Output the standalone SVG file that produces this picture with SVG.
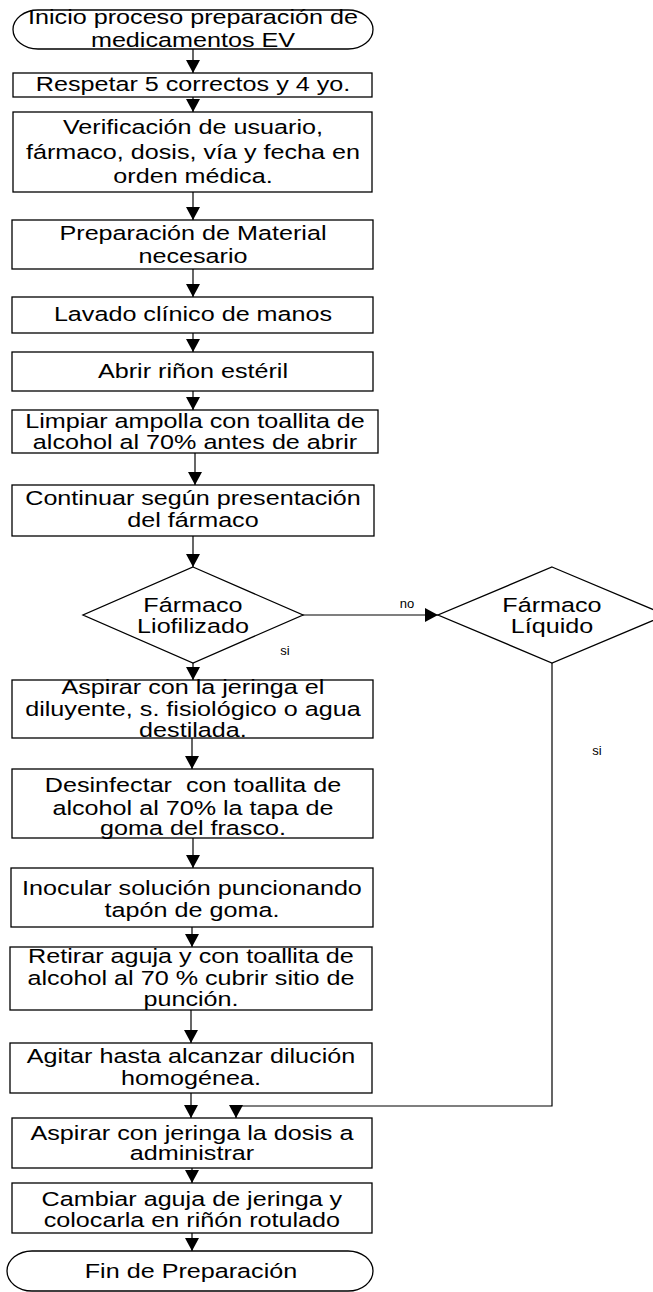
<svg xmlns="http://www.w3.org/2000/svg" width="653" height="1292" viewBox="0 0 653 1292">
<defs>
<marker id="ah" markerUnits="userSpaceOnUse" markerWidth="13" markerHeight="14" viewBox="0 0 13 14" refX="13" refY="7" orient="auto">
<path d="M0,0 L13,7 L0,14 z" fill="#000"/>
</marker>
</defs>
<style>
.s{fill:#fff;stroke:#000;stroke-width:1.3}
.t{font-family:"Liberation Sans",Arial,sans-serif;font-size:19.5px;fill:#000;text-anchor:middle;transform-box:fill-box;transform-origin:center;transform:scaleX(1.29)}
.l{font-family:"Liberation Sans",Arial,sans-serif;font-size:13px;fill:#000;text-anchor:middle}
.c{fill:none;stroke:#000;stroke-width:1.2;marker-end:url(#ah)}
</style>
<rect width="653" height="1292" fill="#fff"/>
<g id="connectors">
<line class="c" x1="193" y1="49" x2="193" y2="73"/>
<line class="c" x1="193" y1="97" x2="193" y2="112"/>
<line class="c" x1="193" y1="192" x2="193" y2="220"/>
<line class="c" x1="193" y1="269" x2="193" y2="297"/>
<line class="c" x1="193" y1="333" x2="193" y2="352"/>
<line class="c" x1="193" y1="391" x2="193" y2="410"/>
<line class="c" x1="195" y1="453" x2="195" y2="485"/>
<line class="c" x1="193" y1="536" x2="193" y2="567"/>
<line class="c" x1="302" y1="615" x2="438" y2="615"/>
<line class="c" x1="193" y1="663" x2="193" y2="680"/>
<line class="c" x1="192" y1="738" x2="192" y2="769"/>
<line class="c" x1="193" y1="838" x2="193" y2="868"/>
<line class="c" x1="192" y1="927" x2="192" y2="947"/>
<line class="c" x1="191" y1="1010" x2="191" y2="1043"/>
<line class="c" x1="191" y1="1093" x2="191" y2="1118"/>
<path class="c" d="M552,663 V1106 H236 V1118"/>
<line class="c" x1="192" y1="1168" x2="192" y2="1183"/>
<line class="c" x1="192" y1="1233" x2="192" y2="1251"/>
<text class="l" x="407" y="608">no</text>
<text class="l" x="285" y="655">si</text>
<text class="l" x="597" y="755">si</text>
</g>
<g id="n_inicio">
<rect class="s" x="13" y="10" width="360" height="39" rx="25" ry="19.5"/>
<text class="t" x="193"><tspan x="193" y="24">Inicio proceso preparación de</tspan><tspan x="193" y="47">medicamentos EV</tspan></text>
</g>
<g id="n_respetar">
<rect class="s" x="13" y="73" width="359" height="24"/>
<text class="t" x="193" y="91">Respetar 5 correctos y 4 yo.</text>
</g>
<g id="n_verificacion">
<rect class="s" x="13" y="112" width="359" height="80"/>
<text class="t" x="193"><tspan x="193" y="134">Verificación de usuario,</tspan><tspan x="193" y="159">fármaco, dosis, vía y fecha en</tspan><tspan x="193" y="183">orden médica.</tspan></text>
</g>
<g id="n_preparacion">
<rect class="s" x="12" y="220" width="361" height="49"/>
<text class="t" x="193"><tspan x="193" y="240">Preparación de Material</tspan><tspan x="193" y="263">necesario</tspan></text>
</g>
<g id="n_lavado">
<rect class="s" x="12" y="297" width="361" height="36"/>
<text class="t" x="193" y="321">Lavado clínico de manos</text>
</g>
<g id="n_abrir">
<rect class="s" x="12" y="352" width="361" height="39"/>
<text class="t" x="193" y="378">Abrir riñon estéril</text>
</g>
<g id="n_limpiar">
<rect class="s" x="12" y="410" width="366" height="43"/>
<text class="t" x="195"><tspan x="195" y="428">Limpiar ampolla con toallita de</tspan><tspan x="195" y="449">alcohol al 70% antes de abrir</tspan></text>
</g>
<g id="n_continuar">
<rect class="s" x="12" y="485" width="362" height="51"/>
<text class="t" x="193"><tspan x="193" y="505">Continuar según presentación</tspan><tspan x="193" y="527">del fármaco</tspan></text>
</g>
<g id="n_liofilizado">
<polygon class="s" points="193,567 303,615 193,663 83,615"/>
<text class="t" x="193"><tspan x="193" y="612">Fármaco</tspan><tspan x="193" y="633">Liofilizado</tspan></text>
</g>
<g id="n_liquido">
<polygon class="s" points="552,567 666,615 552,663 438,615"/>
<text class="t" x="552"><tspan x="552" y="612">Fármaco</tspan><tspan x="552" y="633">Líquido</tspan></text>
</g>
<g id="n_aspirar_diluyente">
<rect class="s" x="12" y="680" width="361" height="58"/>
<text class="t" x="193"><tspan x="193" y="694">Aspirar con la jeringa el</tspan><tspan x="193" y="716">diluyente, s. fisiológico o agua</tspan><tspan x="193" y="737">destilada.</tspan></text>
</g>
<g id="n_desinfectar">
<rect class="s" x="12" y="769" width="361" height="69"/>
<text class="t" x="193"><tspan x="193" y="792">Desinfectar&#160; con toallita de</tspan><tspan x="193" y="815">alcohol al 70% la tapa de</tspan><tspan x="193" y="835">goma del frasco.</tspan></text>
</g>
<g id="n_inocular">
<rect class="s" x="11" y="868" width="362" height="59"/>
<text class="t" x="192"><tspan x="192" y="895">Inocular solución puncionando</tspan><tspan x="192" y="917">tapón de goma.</tspan></text>
</g>
<g id="n_retirar">
<rect class="s" x="10" y="947" width="362" height="63"/>
<text class="t" x="191"><tspan x="191" y="963">Retirar aguja y con toallita de</tspan><tspan x="191" y="985">alcohol al 70 % cubrir sitio de</tspan><tspan x="191" y="1006">punción.</tspan></text>
</g>
<g id="n_agitar">
<rect class="s" x="10" y="1043" width="362" height="50"/>
<text class="t" x="191"><tspan x="191" y="1063">Agitar hasta alcanzar dilución</tspan><tspan x="191" y="1085">homogénea.</tspan></text>
</g>
<g id="n_aspirar_dosis">
<rect class="s" x="12" y="1118" width="360" height="50"/>
<text class="t" x="192"><tspan x="192" y="1140">Aspirar con jeringa la dosis a</tspan><tspan x="192" y="1160">administrar</tspan></text>
</g>
<g id="n_cambiar">
<rect class="s" x="12" y="1183" width="360" height="50"/>
<text class="t" x="192"><tspan x="192" y="1206">Cambiar aguja de jeringa y</tspan><tspan x="192" y="1227">colocarla en riñón rotulado</tspan></text>
</g>
<g id="n_fin">
<rect class="s" x="7" y="1251" width="366" height="40" rx="25" ry="20"/>
<text class="t" x="191" y="1278">Fin de Preparación</text>
</g>
</svg>
